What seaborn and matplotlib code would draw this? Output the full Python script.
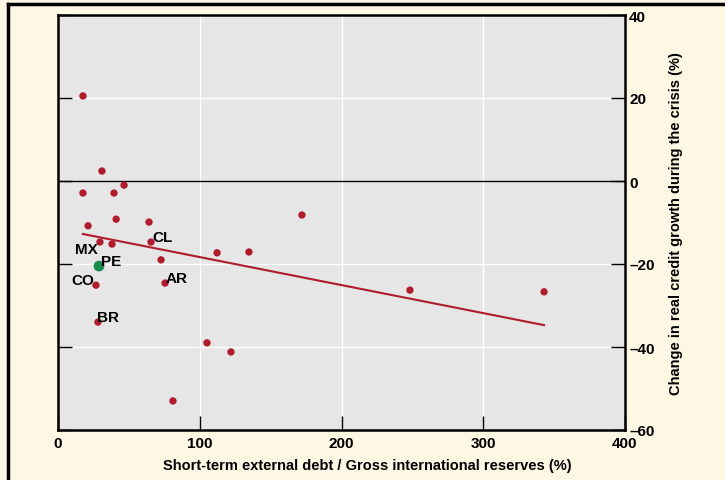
import matplotlib
matplotlib.use("Agg")
import matplotlib.pyplot as plt
from matplotlib.lines import Line2D
import seaborn as sns
import pandas as pd
import numpy as np

# Data
debt_ratio = [17.6, 31.0, 17.6, 46.6, 39.5, 41.0, 21.2, 64.2, 29.6, 38.1, 65.6,
              172.1, 112.2, 134.7, 72.7, 28.9, 26.8, 75.5, 248.3, 342.9, 28.2,
              105.1, 122.0, 81.1]
credit_change = [20.5, 2.4, -2.9, -1.0, -2.9, -9.2, -10.8, -9.9, -14.7, -15.2, -14.7,
                 -8.2, -17.3, -17.1, -19.0, -20.5, -25.1, -24.6, -26.3, -26.7, -34.0,
                 -39.0, -41.2, -53.0]
country = ["", "", "", "", "", "", "", "", "MX", "", "CL",
           "", "", "", "", "PE", "CO", "AR", "", "", "BR",
           "", "", ""]

x_ticks = [0, 100, 200, 300, 400]
y_ticks = [-60, -40, -20, 0, 20, 40]
x_label = "Short-term external debt / Gross international reserves (%)"
y_label = "Change in real credit growth during the crisis (%)"

df = pd.DataFrame({"x": debt_ratio, "y": credit_change, "c": country})
df["hl"] = df["c"] == "PE"

RED = "#b01c2e"
GREEN = "#1a8c50"
BG = "#fdf7e4"

plt.rcParams["font.family"] = ["Liberation Sans", "DejaVu Sans"]

fig = plt.figure(figsize=(7.25, 4.81), dpi=100, facecolor=BG)
ax = fig.add_axes([58 / 725, 50 / 481, 567 / 725, 415 / 481])
ax.set_facecolor("#e6e6e6")

# regression line through all points
sns.regplot(data=df, x="x", y="y", ax=ax, scatter=False, ci=None,
            line_kws={"color": RED, "lw": 1.5, "zorder": 3})
sns.scatterplot(data=df[~df["hl"]], x="x", y="y", ax=ax, color=RED, s=28,
                edgecolor="none", zorder=4)
sns.scatterplot(data=df[df["hl"]], x="x", y="y", ax=ax, color=GREEN, s=60,
                edgecolor="none", zorder=5)

offsets = {"MX": (-2, -7, "right"), "CL": (1, 5, "left"), "PE": (2, 5, "left"),
           "CO": (-2, 5, "right"), "AR": (1, 5, "left"), "BR": (-1, 5, "left")}
for _, r in df[df["c"] != ""].iterrows():
    dx, dy, ha = offsets[r["c"]]
    ax.annotate(r["c"], (r["x"], r["y"]), xytext=(dx, dy), textcoords="offset pixels",
                ha=ha, va="center", fontsize=11, fontweight="bold", zorder=6)

ax.set_xlim(x_ticks[0], x_ticks[-1])
ax.set_ylim(y_ticks[0], y_ticks[-1])
ax.set_xticks(x_ticks)
ax.set_yticks(y_ticks)
ax.set_yticklabels([f"{v}".replace("-", "\u2013") for v in y_ticks])
ax.grid(True, color="white", lw=1)
ax.set_axisbelow(True)
ax.axhline(0, color="black", lw=1, zorder=2)

ax.tick_params(axis="y", left=True, right=True, labelleft=False, labelright=True,
               direction="in", length=10, width=1, pad=3, labelsize=11)
ax.tick_params(axis="x", direction="in", length=10, width=1, pad=4, labelsize=11)
for lab in ax.get_xticklabels() + ax.get_yticklabels():
    lab.set_fontweight("bold")
ax.yaxis.set_label_position("right")
ax.set_xlabel(x_label, fontsize=10.5, fontweight="bold", labelpad=6)
ax.xaxis.label.set_x((367 - 58) / 567)
ax.set_ylabel(y_label, fontsize=10.5, fontweight="bold", labelpad=10)
for s in ax.spines.values():
    s.set_color("black")
    s.set_linewidth(1.8)

# frame lines of the figure
fig.add_artist(Line2D([8 / 725, 8 / 725], [0, 1 - 5 / 481], color="black", lw=2.5,
                      transform=fig.transFigure))
fig.add_artist(Line2D([8 / 725, 1], [1 - 5 / 481, 1 - 5 / 481], color="black", lw=2.5,
                      transform=fig.transFigure))

fig.savefig("out.png", dpi=100, facecolor=BG)
